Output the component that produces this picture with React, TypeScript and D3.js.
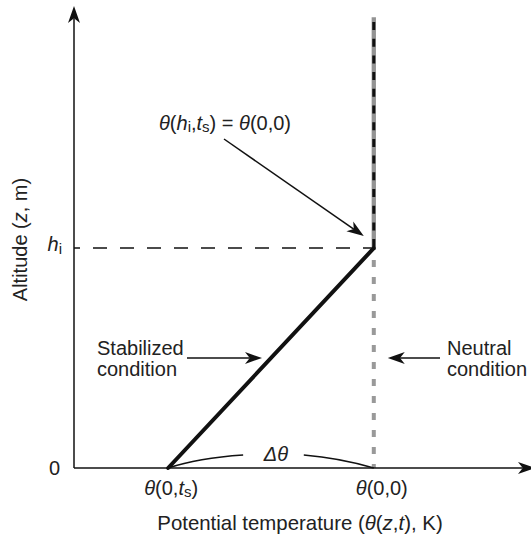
import React from 'react';
import * as d3 from 'd3';

// values (arbitrary units, 0..1 on both axes)
const thetaSurface = [0.206, 0.656]; // θ(0,ts), θ(0,0)
const tickLabels = ['(0,', '(0,0)'];
const altitudes = [0, 0.477, 0.978]; // ground, h_i, top of profile
const stabilizedTheta = [0.206, 0.656, 0.656];
const neutralTheta = [0.656, 0.656, 0.656];

const W = 531;
const H = 540;
const FONT = '"Liberation Sans", Arial, sans-serif';

const x = d3.scaleLinear().domain([0, 1]).range([74, 531]);
const y = d3.scaleLinear().domain([0, 1]).range([468, 7]);

const lineGen = d3.line<[number, number]>()
    .x(d => x(d[0]))
    .y(d => y(d[1]));

// arrow: shaft plus filled head with a notched back
const Arrow = ({ x1, y1, x2, y2, len = 15, half = 5.5, sw = 1.5 }) => {
    const a = Math.atan2(y2 - y1, x2 - x1);
    const ux = Math.cos(a), uy = Math.sin(a);
    const px = -uy, py = ux;
    const bx = x2 - ux * len, by = y2 - uy * len;
    const nx = x2 - ux * len * 0.72, ny = y2 - uy * len * 0.72;
    const head = `M${x2},${y2} L${bx + px * half},${by + py * half} L${nx},${ny} L${bx - px * half},${by - py * half} Z`;
    return (
        <g>
            <line x1={x1} y1={y1} x2={nx} y2={ny} stroke="#111" strokeWidth={sw} />
            <path d={head} fill="#111" />
        </g>
    );
};

const Th = () => <tspan fontStyle="italic">θ</tspan>;

const App = () => {
    const [tS, t0] = thetaSurface;
    const [z0, zi] = altitudes;

    const stabBelow = lineGen([[stabilizedTheta[0], altitudes[0]], [stabilizedTheta[1], altitudes[1]]]);
    const stabAbove = lineGen([[stabilizedTheta[1], altitudes[1]], [stabilizedTheta[2], altitudes[2]]]);
    const neutBelow = lineGen([[neutralTheta[0], altitudes[0]], [neutralTheta[1], altitudes[1]]]);
    const neutAbove = lineGen([[neutralTheta[1], altitudes[1]], [neutralTheta[2], altitudes[2]]]);

    // Δθ bracket curves
    const left = d3.path();
    left.moveTo(x(tS), y(z0));
    left.quadraticCurveTo(x(tS) + 30, y(z0) - 10, x(tS) + 75, y(z0) - 13);
    const right = d3.path();
    right.moveTo(x(t0) - 70, y(z0) - 13);
    right.quadraticCurveTo(x(t0) - 34, y(z0) - 10, x(t0), y(z0));

    const midY = 358;

    return (
        <svg width={W} height={H} style={{ position: 'absolute', left: 0, top: 0, background: '#fff' }}
            fontFamily={FONT} fontSize={20} fill="#222">
            {/* h_i reference line */}
            <line x1={x(0)} y1={y(zi)} x2={x(t0)} y2={y(zi)} stroke="#111" strokeWidth={1.5}
                strokeDasharray="14,13" strokeDashoffset={8} />

            {/* neutral condition */}
            <path d={neutBelow} stroke="#999" strokeWidth={4} fill="none" strokeDasharray="7,10" strokeDashoffset={3} />
            <path d={neutAbove} stroke="#939393" strokeWidth={4.3} fill="none" />

            {/* stabilized condition */}
            <path d={stabBelow} stroke="#111" strokeWidth={4} fill="none" strokeLinecap="round" />
            <path d={stabAbove} stroke="#111" strokeWidth={3} fill="none" strokeDasharray="8,8.7" strokeDashoffset={-1} />

            {/* axes */}
            <Arrow x1={x(0)} y1={y(0)} x2={x(0)} y2={6} len={17} half={6} />
            <Arrow x1={x(0)} y1={y(0)} x2={535} y2={y(0)} len={17} half={6} />

            {/* Δθ */}
            <path d={left.toString()} stroke="#111" strokeWidth={1.4} fill="none" />
            <path d={right.toString()} stroke="#111" strokeWidth={1.4} fill="none" />
            <text x={(x(tS) + x(t0)) / 2 + 5} y={y(z0) - 7} textAnchor="middle" fontStyle="italic">Δθ</text>

            {/* y tick labels */}
            <text x={x(0) - 14} y={y(z0) + 7} textAnchor="end">0</text>
            <text x={x(0) - 12} y={y(zi) + 3} textAnchor="end">
                <tspan fontStyle="italic">h</tspan><tspan fontSize={15} dy={3}>i</tspan>
            </text>

            {/* x tick labels */}
            <text x={x(tS) + 3} y={y(z0) + 27} textAnchor="middle">
                <Th />{tickLabels[0]}<tspan fontStyle="italic">t</tspan><tspan fontSize={15} dy={2}>s</tspan><tspan dy={-2}>)</tspan>
            </text>
            <text x={x(t0) + 8} y={y(z0) + 27} textAnchor="middle"><Th />{tickLabels[1]}</text>

            {/* axis titles */}
            <text x={300} y={530} textAnchor="middle" fontSize={20.4}>
                Potential temperature (<Th />(<tspan fontStyle="italic">z</tspan>,<tspan fontStyle="italic">t</tspan>), K)
            </text>
            <text transform={`translate(27,${(y(0) + y(1)) / 2 + 2}) rotate(-90)`} textAnchor="middle">
                Altitude (<tspan fontStyle="italic">z</tspan>, m)
            </text>

            {/* annotations */}
            <text x={225} y={130} textAnchor="middle">
                <Th />(<tspan fontStyle="italic">h</tspan><tspan fontSize={15} dy={2}>i</tspan><tspan dy={-2}>,</tspan><tspan fontStyle="italic">t</tspan><tspan fontSize={15} dy={2}>s</tspan><tspan dy={-2}>) = </tspan><Th />(0,0)
            </text>
            <Arrow x1={224} y1={139} x2={x(t0) - 10} y2={y(zi) - 12} len={17} half={6} />

            <text x={97} y={355}>Stabilized</text>
            <text x={97} y={376}>condition</text>
            <Arrow x1={187} y1={midY} x2={262} y2={midY} len={17} half={6} />

            <text x={447} y={355}>Neutral</text>
            <text x={447} y={376}>condition</text>
            <Arrow x1={440} y1={midY} x2={x(t0) + 14} y2={midY} len={17} half={6} />
        </svg>
    );
};

export default App;
